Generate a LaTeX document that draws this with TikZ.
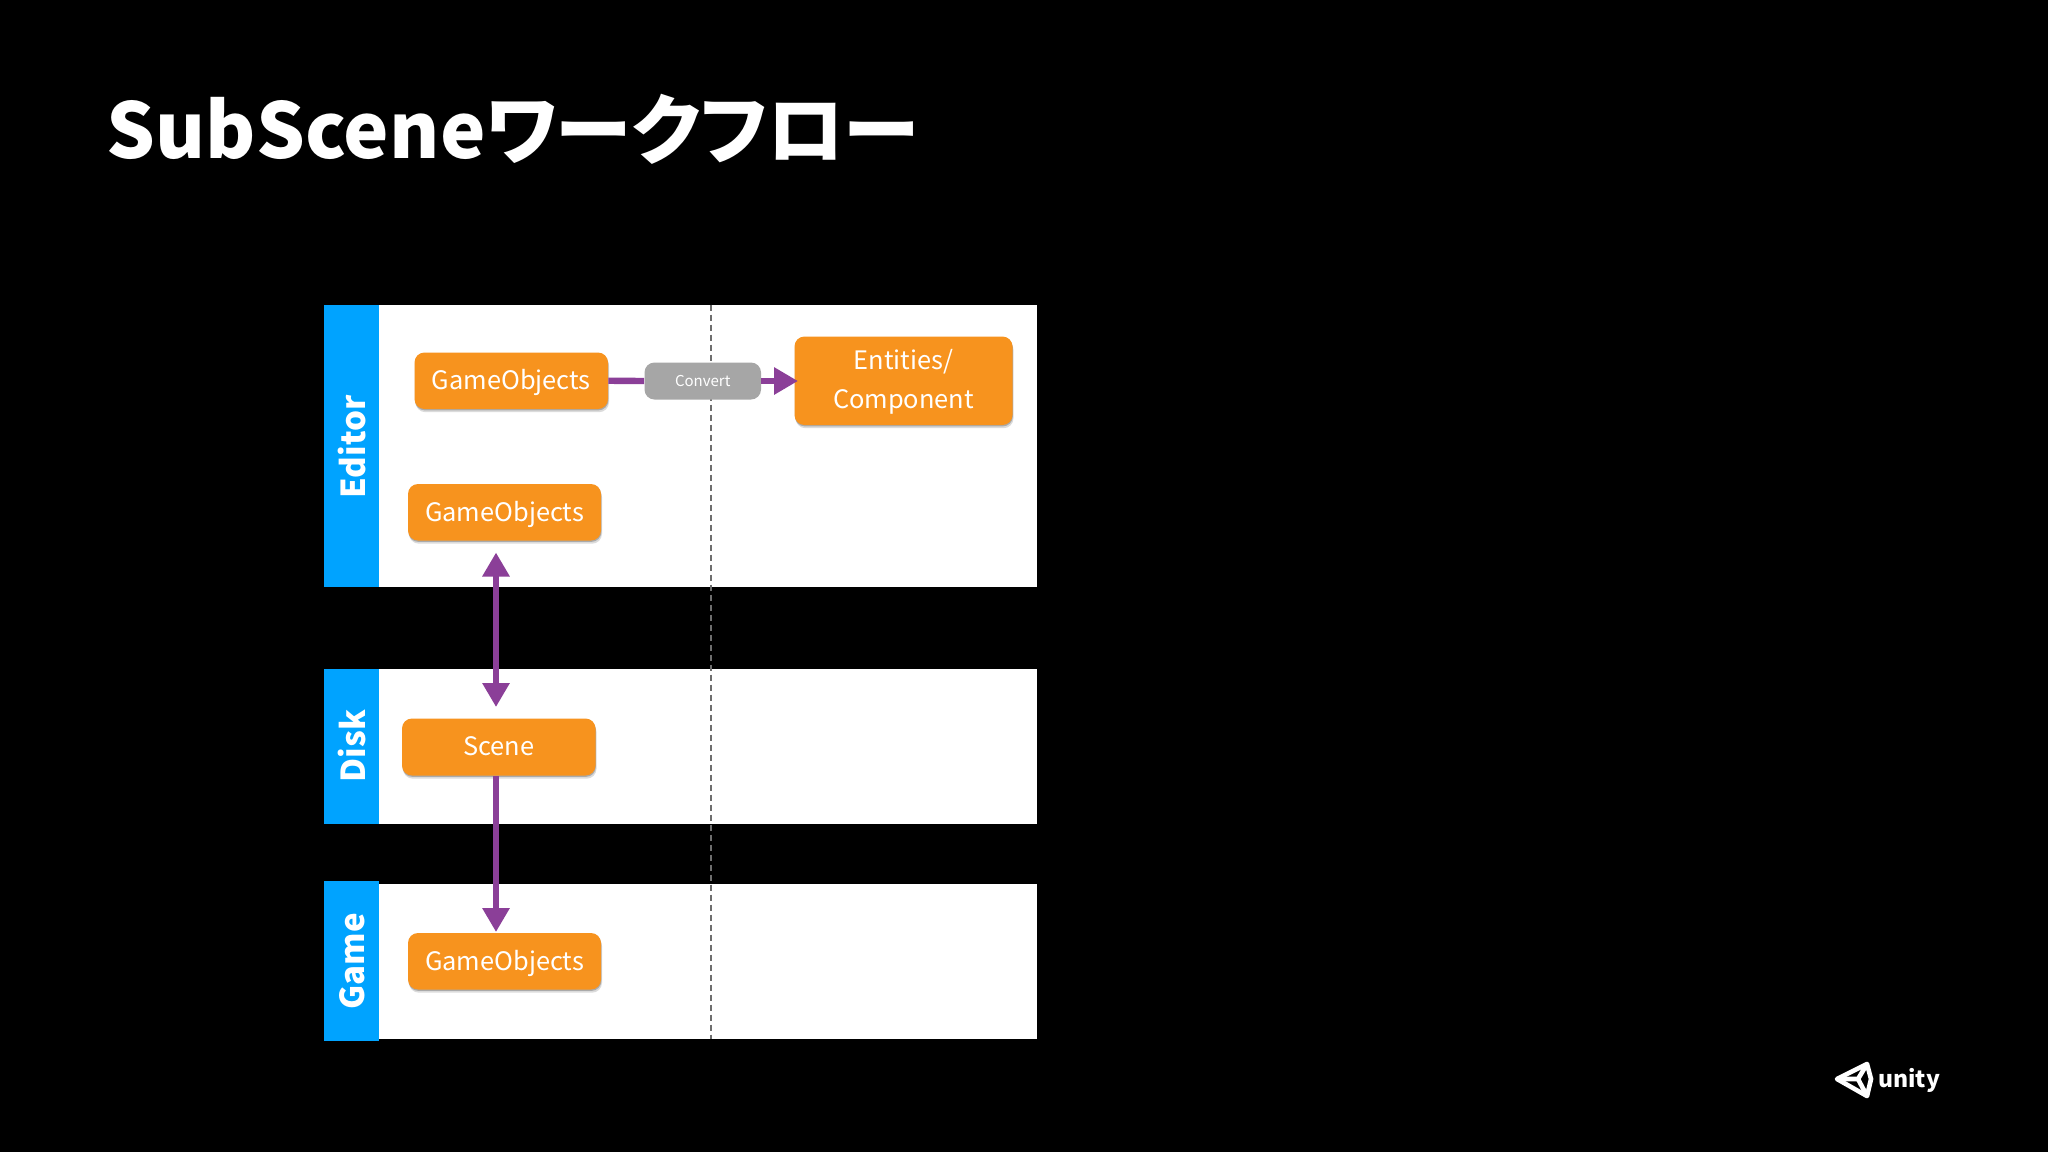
\documentclass[tikz,border=0pt]{standalone}
\usepackage{fontspec}
\usetikzlibrary{arrows.meta,shadows,calc}
\setmainfont[RawFeature=+palt]{Noto Sans CJK JP}
\definecolor{boxorange}{HTML}{F7931E}
\definecolor{flowpurple}{HTML}{8B3F98}
\definecolor{stripblue}{HTML}{00A3FF}
\definecolor{convgray}{HTML}{A6A6A6}
\definecolor{dashgray}{HTML}{6E6E6E}
\tikzset{
  x=0.5pt,y=-0.5pt,
  panel/.style={fill=white,draw=none},
  strip/.style={fill=stripblue,draw=none},
  striptext/.style={text=white,font=\fontsize{16.5}{20}\selectfont\bfseries,rotate=90,inner sep=0pt},
  orangebox/.style={fill=boxorange,rounded corners=5pt,inner sep=0pt,align=center,text=white,
    font=\fontsize{12.7}{19.5}\selectfont,text height=10.6pt,text depth=1.4pt,
    drop shadow={shadow xshift=0.2pt,shadow yshift=-0.7pt,opacity=0.22,fill=black},
    drop shadow={shadow xshift=0.5pt,shadow yshift=-1.6pt,opacity=0.14,fill=black}},
  convbox/.style={fill=convgray,rounded corners=5pt,inner sep=0pt,text=white,font=\fontsize{7.5}{9}\selectfont},
  flow/.style={draw=flowpurple,line width=3.2pt},
  tip/.style={-{Triangle[length=12pt,width=13pt]}},
  tips/.style={{Triangle[length=12pt,width=13pt]}-{Triangle[length=12pt,width=13pt]}},
  laneline/.style={draw=dashgray,line width=0.7pt,dash pattern=on 3pt off 2pt},
}
\newcommand{\bx}[6]{\node[#1,minimum width=#4*0.5pt-#3*0.5pt,minimum height=#6*0.5pt-#5*0.5pt] at ({(#3+#4)/2},{(#5+#6)/2}) (#2)}
\begin{document}
\begin{tikzpicture}
\useasboundingbox[fill=black] (0,0) rectangle (2048,1152);
% title
\node[anchor=base west,inner sep=0pt,text=white,font=\fontsize{38.3}{46}\selectfont\bfseries] (title) at (106.5,158) {SubSceneワークフロー};
% panels
\bx{panel}{editorpanel}{324}{1037}{304.5}{587}{};
\bx{panel}{diskpanel}{324}{1037}{669}{824}{};
\bx{panel}{gamepanel}{324}{1037}{883.5}{1039}{};
\bx{strip}{editorstrip}{324}{379}{304.5}{587}{};
\bx{strip}{diskstrip}{324}{379}{669}{824}{};
\bx{strip}{gamestrip}{324}{379}{880.5}{1041}{};
\node[striptext] (editorlabel) at (352,447) {Editor};
\node[striptext] (disklabel) at (352,746) {Disk};
\node[striptext] (gamelabel) at (352,961) {Game};
% lane divider
\coordinate (lanetop) at (711,304.5);
\coordinate (lanebottom) at (711,1039);
\draw[laneline] (lanetop) -- (lanebottom);
% boxes
\bx{orangebox}{goa}{414.5}{608}{352.5}{409}{GameObjects};
\bx{convbox}{conv}{644.5}{761}{362.5}{399.5}{Convert};
\bx{orangebox,text height=29.4pt}{ent}{794.5}{1012.5}{336.5}{425}{Entities/\\Component};
\bx{orangebox}{gob}{408}{601}{484}{540.5}{GameObjects};
\bx{orangebox,text height=9.4pt}{scene}{402}{595.5}{718.5}{775.5}{Scene};
\bx{orangebox,text height=10.2pt}{goc}{408}{601}{933}{989.5}{GameObjects};
% connectors
\coordinate (enttip) at (798,381);
\coordinate (uptip) at (496,552.5);
\coordinate (downtip) at (496,707);
\coordinate (scenefoot) at (496,776);
\coordinate (gametip) at (496,932);
\draw[flow] (goa.east) -- (conv.west);
\draw[flow,tip] (conv.east) -- (enttip);
\draw[flow,tips] (uptip) -- (downtip);
\draw[flow,tip] (scenefoot) -- (gametip);
% logo
\draw[white,line width=2.3pt,line join=round]
  (1837,1079) -- (1867,1064) -- (1871,1079) -- (1867,1096) -- cycle;
\draw[white,line width=2.3pt,line join=round]
  (1837,1079) -- (1858,1079) -- (1867,1064)
  (1858,1079) -- (1867,1096);
\node[anchor=base west,inner sep=0pt,text=white,font=\fontsize{11.5}{14}\selectfont\bfseries] (unity) at (1878,1087) {unity};
\end{tikzpicture}
\end{document}
